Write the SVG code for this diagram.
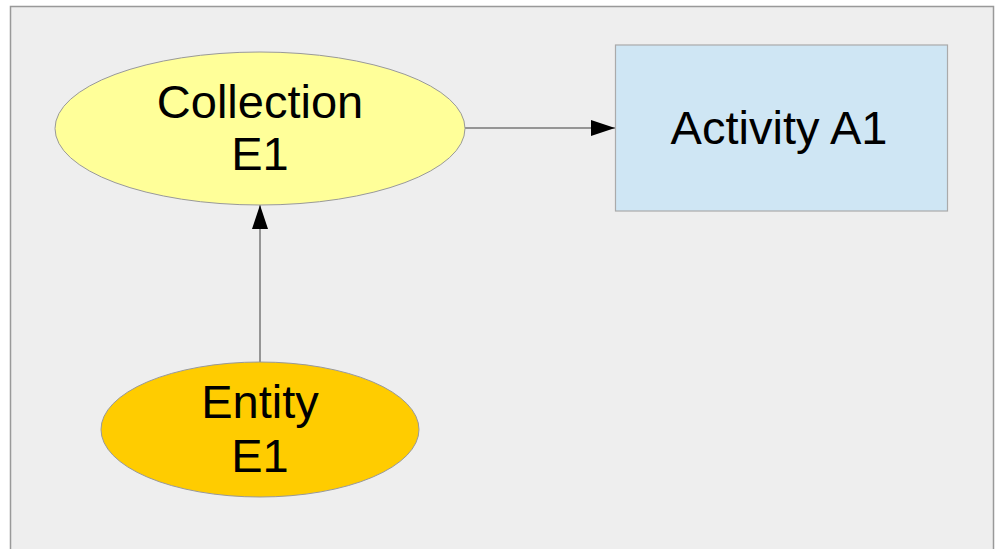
<svg xmlns="http://www.w3.org/2000/svg" width="999" height="549" viewBox="0 0 999 549">
<defs>
<style>
.lbl{font-family:"Liberation Sans",Arial,sans-serif;font-size:47px;fill:#000;text-anchor:middle}
.conn{stroke:#777;stroke-width:1.5;fill:none}
</style>
<marker id="ah" viewBox="0 0 24 16" refX="24" refY="8" markerWidth="24" markerHeight="16" markerUnits="userSpaceOnUse" orient="auto">
<path d="M0,0 L24,8 L0,16 Z" fill="#000"/>
</marker>
</defs>
<rect width="999" height="549" fill="#fff"/>
<rect x="10.5" y="6.5" width="983" height="560" fill="#eeeeee" stroke="#999" stroke-width="1.5"/>
<g id="connectors">
<line class="conn" x1="465" y1="128" x2="615" y2="128" marker-end="url(#ah)"/>
<line class="conn" x1="260" y1="362" x2="260" y2="205" marker-end="url(#ah)"/>
</g>
<g id="collection">
<ellipse cx="260" cy="128.5" rx="205" ry="76.5" fill="#ffff99" stroke="#999" stroke-width="1"/>
<text class="lbl" x="260" y="118">Collection</text>
<text class="lbl" x="260" y="170">E1</text>
</g>
<g id="activity">
<rect x="615.5" y="45" width="332" height="166" fill="#cfe6f4" stroke="#aaa" stroke-width="1.2"/>
<text class="lbl" x="779" y="144">Activity A1</text>
</g>
<g id="entity">
<ellipse cx="260" cy="429.5" rx="159" ry="67.5" fill="#ffcc00" stroke="#999" stroke-width="1"/>
<text class="lbl" x="260" y="418">Entity</text>
<text class="lbl" x="260" y="472">E1</text>
</g>
</svg>
